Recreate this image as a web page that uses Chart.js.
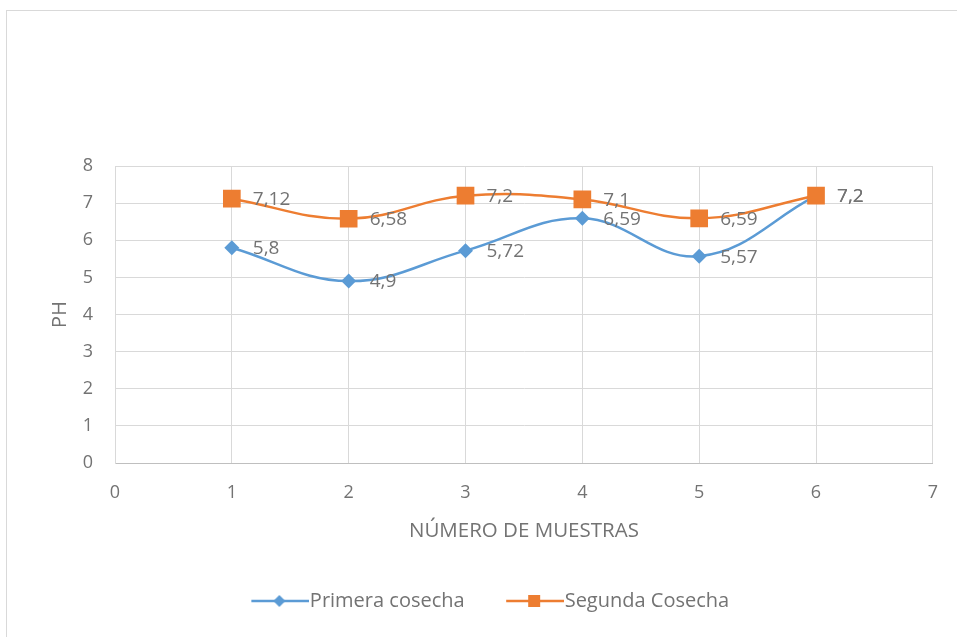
<!DOCTYPE html>
<html>
<head>
<meta charset="utf-8">
<script src="https://cdn.jsdelivr.net/npm/chart.js@4/dist/chart.umd.min.js"></script>
<style>
  html, body { margin: 0; padding: 0; background: #ffffff; }
  #wrap { position: relative; width: 957px; height: 637px; }
</style>
</head>
<body>
<div id="wrap"><canvas id="chart" width="957" height="637"></canvas></div>
<script>
// Sample numbers (x) and pH readings for each harvest
const muestras = [1, 2, 3, 4, 5, 6];
const primeraCosecha = [5.8, 4.9, 5.72, 6.59, 5.57, 7.2];
const segundaCosecha = [7.12, 6.58, 7.2, 7.1, 6.59, 7.2];
const seriesNames = ['Primera cosecha', 'Segunda Cosecha'];
const xTitle = 'NÚMERO DE MUESTRAS';
const yTitle = 'PH';

const BLUE = '#5b9bd5';
const ORANGE = '#ed7d31';
const GRID = '#d9d9d9';
const TEXT = '#737373';
const FONT = '"Open Sans", "Liberation Sans", sans-serif';

const toPoints = (ys) => muestras.map((x, i) => ({ x: x, y: ys[i] }));

// Legend swatch: a short line with the series marker on it
function legendIcon(color, marker) {
  const c = document.createElement('canvas');
  c.width = 99; c.height = 20;
  const g = c.getContext('2d');
  g.strokeStyle = color;
  g.lineWidth = 2.5;
  g.beginPath();
  g.moveTo(41, 10);
  g.lineTo(99, 10);
  g.stroke();
  g.fillStyle = color;
  const cx = 69, cy = 10;
  g.beginPath();
  if (marker === 'diamond') {
    g.moveTo(cx, cy - 6); g.lineTo(cx + 6, cy); g.lineTo(cx, cy + 6); g.lineTo(cx - 6, cy);
  } else {
    g.rect(cx - 6, cy - 6, 12, 12);
  }
  g.closePath();
  g.fill();
  return c;
}
const icons = [legendIcon(BLUE, 'diamond'), legendIcon(ORANGE, 'square')];

// Value labels to the right of every point, with decimal comma
const valueLabels = {
  id: 'valueLabels',
  afterDatasetsDraw(chart) {
    const ctx = chart.ctx;
    ctx.save();
    ctx.font = '19px ' + FONT;
    ctx.fillStyle = TEXT;
    ctx.textAlign = 'left';
    ctx.textBaseline = 'middle';
    chart.data.datasets.forEach((ds, di) => {
      const meta = chart.getDatasetMeta(di);
      meta.data.forEach((pt, i) => {
        const v = ds.data[i].y;
        ctx.fillText(String(v).replace('.', ','), pt.x + 21, pt.y + 1);
      });
    });
    ctx.restore();
  }
};

// Thin outer frame of the chart
const frame = {
  id: 'frame',
  beforeDraw(chart) {
    const ctx = chart.ctx;
    ctx.save();
    ctx.strokeStyle = GRID;
    ctx.lineWidth = 1;
    ctx.strokeRect(6.5, 10.5, 1000, 1000);
    ctx.restore();
  }
};

new Chart(document.getElementById('chart'), {
  type: 'line',
  data: {
    datasets: [
      {
        label: seriesNames[0],
        data: toPoints(primeraCosecha),
        borderColor: BLUE,
        backgroundColor: BLUE,
        borderWidth: 2.5,
        tension: 0.4,
        pointStyle: 'rectRot',
        pointRadius: 7.5,
        pointBorderWidth: 0,
        pointBackgroundColor: BLUE,
        order: 1
      },
      {
        label: seriesNames[1],
        data: toPoints(segundaCosecha),
        borderColor: ORANGE,
        backgroundColor: ORANGE,
        borderWidth: 2.5,
        tension: 0.4,
        pointStyle: 'rect',
        pointRadius: 12.5,
        pointBorderWidth: 0,
        pointBackgroundColor: ORANGE,
        order: 0
      }
    ]
  },
  options: {
    responsive: false,
    animation: false,
    devicePixelRatio: 1,
    layout: { padding: { left: 16, right: 24, top: 166, bottom: 16 } },
    plugins: {
      tooltip: { enabled: false },
      legend: {
        position: 'bottom',
        labels: {
          usePointStyle: true,
          pointStyleWidth: 80,
          padding: 10,
          color: TEXT,
          font: { family: FONT, size: 20 },
          generateLabels(chart) {
            return chart.data.datasets.map((ds, i) => ({
              text: ds.label,
              pointStyle: icons[i],
              fillStyle: ds.borderColor,
              strokeStyle: ds.borderColor,
              lineWidth: 0,
              fontColor: TEXT,
              hidden: false,
              datasetIndex: i
            }));
          }
        }
      }
    },
    scales: {
      x: {
        type: 'linear',
        min: 0,
        max: 7,
        ticks: { stepSize: 1, padding: 19, color: TEXT, font: { family: FONT, size: 18 } },
        grid: { color: GRID, lineWidth: 1, drawTicks: false },
        border: { color: '#bfbfbf', width: 1 },
        title: { display: true, text: xTitle, color: TEXT, font: { family: FONT, size: 20.5 }, padding: { top: 0, bottom: 38 } },
        afterFit(scale) { scale.height = 118; }
      },
      y: {
        min: 0,
        max: 8,
        ticks: { stepSize: 1, padding: 22, color: TEXT, font: { family: FONT, size: 18 } },
        grid: { color: GRID, lineWidth: 1, drawTicks: false },
        border: { color: GRID, width: 1 },
        title: { display: true, text: yTitle, color: TEXT, font: { family: FONT, size: 20 }, padding: { top: 32, bottom: 0 } },
        afterFit(scale) { scale.width = 99; }
      }
    }
  },
  plugins: [frame, valueLabels]
});
</script>
</body>
</html>
